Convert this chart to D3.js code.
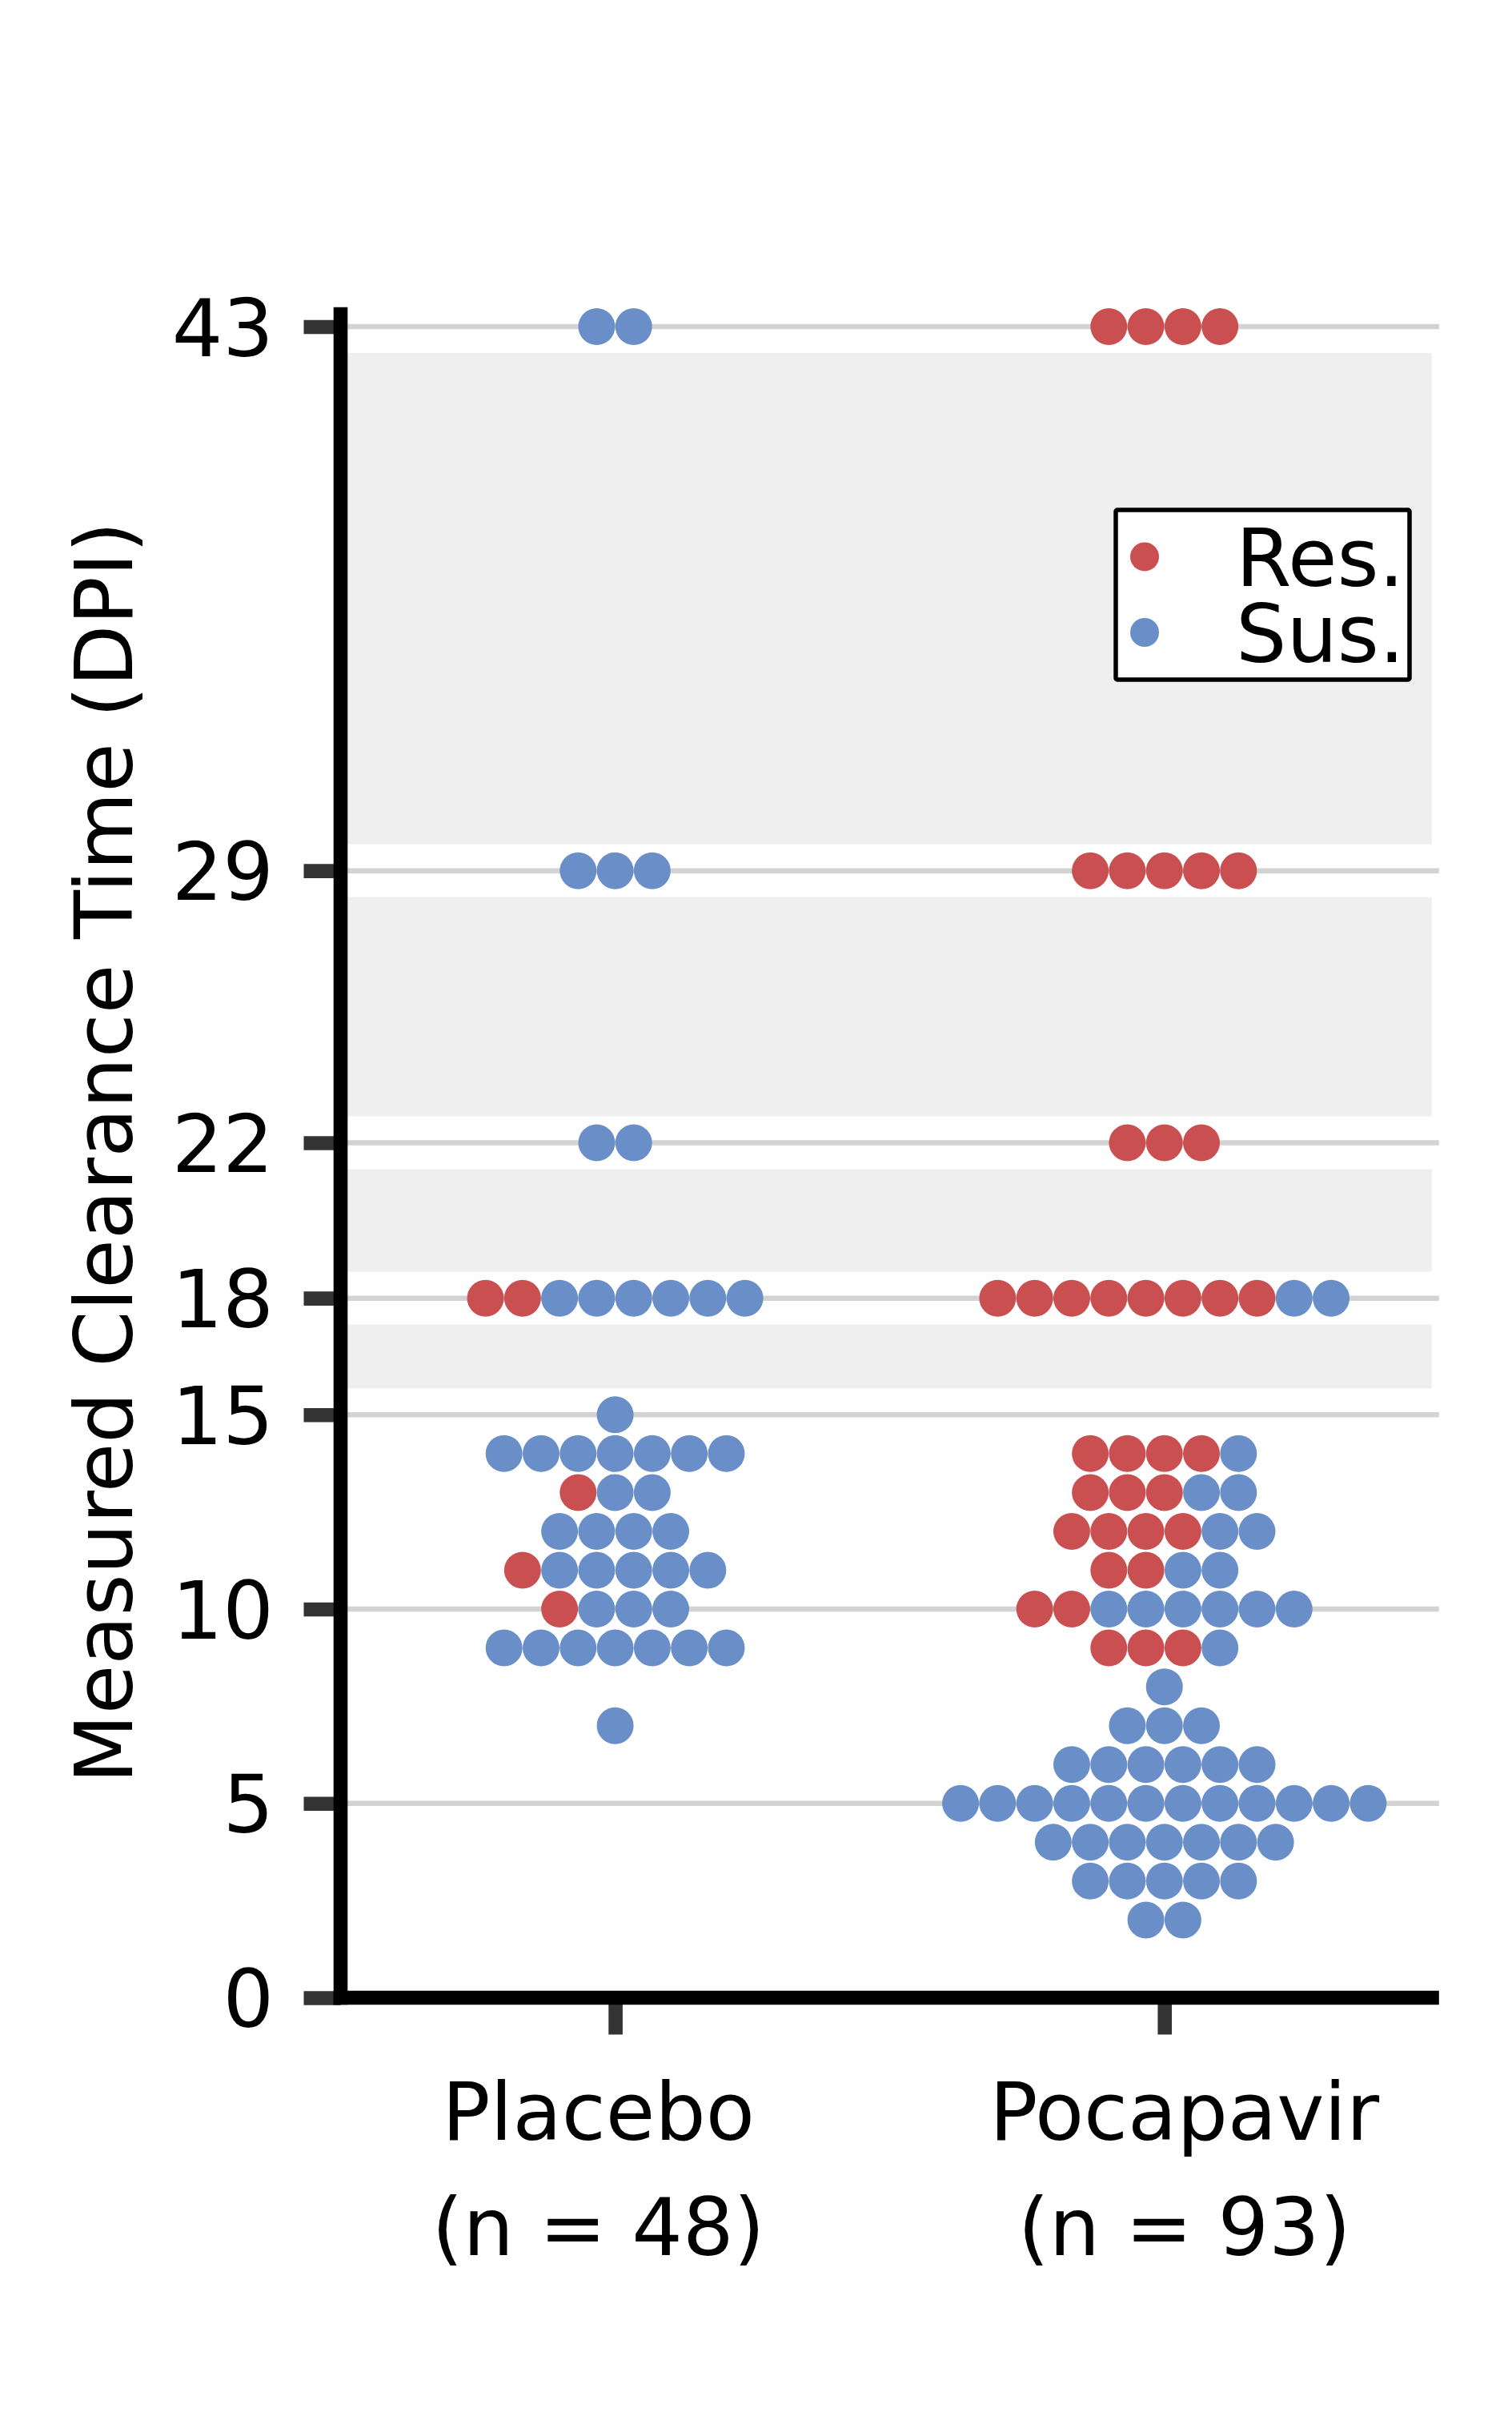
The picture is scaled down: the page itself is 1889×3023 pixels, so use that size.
<!DOCTYPE html>
<html>
<head>
<meta charset="utf-8">
<script src="https://cdn.jsdelivr.net/npm/d3@7/dist/d3.min.js"></script>
<style>
  html, body { margin: 0; padding: 0; background: #ffffff; }
  svg { display: block; }
  text { font-family: "DejaVu Sans", sans-serif; fill: #000; }
</style>
</head>
<body>
<svg id="chart" width="1889" height="3023"></svg>
<script>
// ---------------- data ----------------
const categories = ["Placebo", "Pocapavir"];
const categoryN = [48, 93];
const yTickValues = [0, 5, 10, 15, 18, 22, 29, 43];
const gridValues = [5, 10, 15, 18, 22, 29, 43];
const bandRanges = [[15.68, 17.32], [18.68, 21.32], [22.68, 28.32], [29.68, 42.32]];
const legendLabels = ["Res.", "Sus."];
const yLabel = "Measured Clearance Time (DPI)";

// clearance-time rows and how many dots of each status sit on each row
const rowValues      = [43, 29, 22, 18, 15, 14, 13, 12, 11, 10, 9, 8, 7, 6, 5, 4, 3, 2];
const placeboRes     = [ 0,  0,  0,  2,  0,  0,  1,  0,  1,  1, 0, 0, 0, 0, 0, 0, 0, 0];
const placeboSus     = [ 2,  3,  2,  6,  1,  7,  2,  4,  5,  3, 7, 0, 1, 0, 0, 0, 0, 0];
const pocapavirRes   = [ 4,  5,  3,  8,  0,  4,  3,  4,  2,  2, 3, 0, 0, 0, 0, 0, 0, 0];
const pocapavirSus   = [ 0,  0,  0,  2,  0,  1,  2,  2,  2,  6, 1, 1, 3, 6,12, 7, 5, 2];

// ---------------- styles ----------------
const W = 1889, H = 3023;
const plotLeft = 425.5, plotRight = 1797.8;
const yMin = 0, yMax = 43.5;
const yBottom = 2495.5, yTopTick = 408;   // pixel positions of 0 and 43
const colorRes = "#c94f50", colorSus = "#6a8ec8";
const dotR = 23, dotStep = 46.3;
const spineW = 17.6, tickLen = 46;
const fontSize = 100;
const labelShift = [-21, 25];

const svg = d3.select("#chart");
svg.append("rect").attr("width", W).attr("height", H).attr("fill", "#fff");

const pxPerUnit = (yBottom - yTopTick) / 43;
const y = d3.scaleLinear().domain([yMin, yMax]).range([yBottom, yBottom - yMax * pxPerUnit]);
const x = d3.scalePoint().domain(categories).range([plotLeft, plotRight]).padding(0.5);

// gray bands
svg.append("g").selectAll("rect").data(bandRanges).join("rect")
  .attr("x", plotLeft)
  .attr("width", plotRight - 9 - plotLeft)
  .attr("y", d => y(d[1]))
  .attr("height", d => y(d[0]) - y(d[1]))
  .attr("fill", "#efefef");

// gridlines
svg.append("g").selectAll("line").data(gridValues).join("line")
  .attr("x1", plotLeft).attr("x2", plotRight)
  .attr("y1", d => y(d)).attr("y2", d => y(d))
  .attr("stroke", "#d3d3d3").attr("stroke-width", 6.5);

// build points
const counts = {
  "Placebo": [placeboRes, placeboSus],
  "Pocapavir": [pocapavirRes, pocapavirSus]
};
const points = [];
categories.forEach(cat => {
  const [res, sus] = counts[cat];
  rowValues.forEach((v, i) => {
    const statuses = [];
    for (let k = 0; k < res[i]; k++) statuses.push("Res.");
    for (let k = 0; k < sus[i]; k++) statuses.push("Sus.");
    const n = statuses.length;
    statuses.forEach((s, j) => points.push({ cat, value: v, status: s, offset: j - (n - 1) / 2 }));
  });
});

svg.append("g").selectAll("circle").data(points).join("circle")
  .attr("cx", d => x(d.cat) + d.offset * dotStep)
  .attr("cy", d => y(d.value))
  .attr("r", dotR)
  .attr("fill", d => d.status === "Res." ? colorRes : colorSus);

// y axis ticks
const yAxis = d3.axisLeft(y).tickValues(yTickValues).tickSize(tickLen).tickPadding(37.5).tickFormat(d3.format("d"));
const gy = svg.append("g").attr("transform", `translate(${plotLeft},0)`).call(yAxis);
gy.select(".domain").remove();
gy.selectAll(".tick line").attr("stroke", "#333").attr("stroke-width", spineW);
gy.selectAll(".tick text").attr("font-size", fontSize).attr("font-family", "DejaVu Sans")
  .attr("dy", "0.36em").attr("fill", "#000");

// x axis ticks
const xAxis = d3.axisBottom(x).tickSize(tickLen).tickFormat("");
const gx = svg.append("g").attr("transform", `translate(0,${y(0)})`).call(xAxis);
gx.select(".domain").remove();
gx.selectAll(".tick line").attr("stroke", "#333").attr("stroke-width", spineW);

// category labels
categories.forEach((cat, i) => {
  const t = svg.append("text")
    .attr("text-anchor", "middle")
    .attr("font-size", fontSize)
    .attr("x", x(cat) + labelShift[i])
    .attr("y", 2672.8);
  t.append("tspan").attr("x", x(cat) + labelShift[i]).text(cat);
  t.append("tspan").attr("x", x(cat) + labelShift[i]).attr("dy", 144).text(`(n = ${categoryN[i]})`);
});

// spines
svg.append("line")
  .attr("x1", plotLeft).attr("x2", plotLeft)
  .attr("y1", y(yMax)).attr("y2", y(0) + spineW / 2)
  .attr("stroke", "#000").attr("stroke-width", spineW);
svg.append("line")
  .attr("x1", plotLeft - spineW / 2).attr("x2", plotRight)
  .attr("y1", y(0)).attr("y2", y(0))
  .attr("stroke", "#000").attr("stroke-width", spineW);

// y label
svg.append("text")
  .attr("transform", `translate(165,${(y(0) + y(yMax)) / 2}) rotate(-90)`)
  .attr("text-anchor", "middle")
  .attr("font-size", fontSize)
  .text(yLabel);

// legend
const lg = svg.append("g");
lg.append("rect")
  .attr("x", 1394).attr("y", 637).attr("width", 367).attr("height", 212)
  .attr("rx", 2)
  .attr("fill", "#fff").attr("stroke", "#000").attr("stroke-width", 5.5);
const legendColor = d3.scaleOrdinal().domain(legendLabels).range([colorRes, colorSus]);
lg.selectAll("circle").data(legendLabels).join("circle")
  .attr("cx", 1430).attr("cy", (d, i) => 695.4 + i * 94.6)
  .attr("r", 18).attr("fill", d => legendColor(d));
const lt = lg.append("text").attr("font-size", fontSize).attr("x", 1544).attr("y", 731.6);
lt.selectAll("tspan").data(legendLabels).join("tspan")
  .attr("x", 1544).attr("dy", (d, i) => i === 0 ? 0 : 95.4)
  .text(d => d);
</script>
</body>
</html>
